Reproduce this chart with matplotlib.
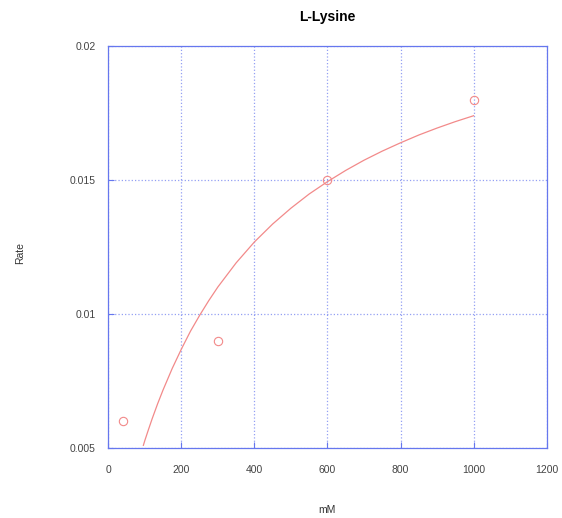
import matplotlib
matplotlib.use("Agg")
import matplotlib.pyplot as plt
from matplotlib.ticker import FuncFormatter

plt.rcParams["font.family"] = ["Liberation Sans", "DejaVu Sans"]

# measured points
conc = [40, 300, 600, 1000]
rate = [0.006, 0.009, 0.015, 0.018]

# fitted curve
fit_x = [96, 100, 110, 120, 135, 150, 175, 200, 225, 250, 275, 300, 350, 400,
         450, 500, 550, 600, 650, 700, 750, 800, 850, 900, 950, 1000]
fit_y = [0.0051, 0.00528, 0.00569, 0.00609, 0.00665, 0.00717, 0.00797, 0.00869,
         0.00936, 0.00995, 0.01050, 0.01101, 0.01191, 0.01269, 0.01336, 0.01395,
         0.01448, 0.01494, 0.01536, 0.01574, 0.01608, 0.01639, 0.01668, 0.01694,
         0.01718, 0.0174]

x_ticks = [0, 200, 400, 600, 800, 1000, 1200]
y_ticks = [0.005, 0.01, 0.015, 0.02]

blue = "#6677ee"
red = "#f28a8a"

fig = plt.figure(figsize=(5.62, 5.18), dpi=100)
ax = fig.add_axes([0.1927, 0.1351, 0.780, 0.776])

ax.plot(fit_x, fit_y, color=red, lw=0.9)
ax.plot(conc, rate, "o", mfc="none", mec=red, ms=6, mew=0.8)

ax.set_xlim(0, 1200)
ax.set_ylim(0.005, 0.02)
ax.set_xticks(x_ticks)
ax.set_yticks(y_ticks)
ax.yaxis.set_major_formatter(FuncFormatter(lambda v, p: f"{v:g}"))

ax.grid(True, color=blue, ls=":", lw=0.9, alpha=0.7)
for s in ax.spines.values():
    s.set_color(blue)
    s.set_linewidth(0.9)
ax.tick_params(direction="in", color=blue, length=4, labelsize=7.5,
               labelcolor="#444444")
ax.tick_params(axis="x", pad=12)
ax.tick_params(axis="y", pad=9)

ax.set_title("L-Lysine", fontsize=10, fontweight="bold", pad=18)
fig.text(327 / 562, 1 - 510 / 518, "mM", fontsize=7.5, ha="center", va="center",
         color="#333333")
fig.text(20 / 562, 1 - 253 / 518, "Rate", fontsize=7.5, ha="center", va="center",
         rotation=90, color="#333333")

fig.savefig("out.png", dpi=100)
